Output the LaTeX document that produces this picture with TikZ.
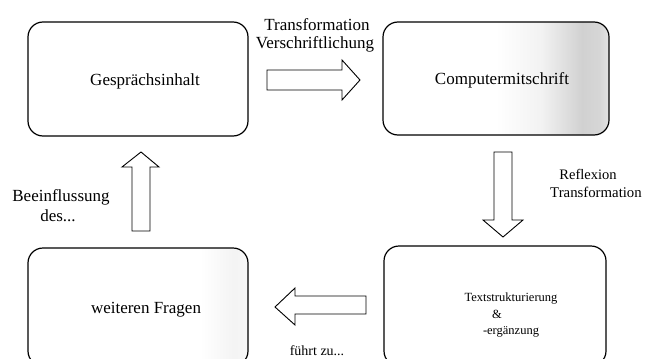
\documentclass[tikz,border=0pt]{standalone}
\usepackage{fontspec}
\setmainfont{Liberation Serif}
\usetikzlibrary{calc}
\pgfdeclarehorizontalshading{cmshade}{100bp}{color(0bp)=(white); color(25bp)=(white); color(50bp)=(white); color(60bp)=(gray!10); color(69bp)=(gray!36); color(73bp)=(gray!32); color(75bp)=(gray!22); color(100bp)=(gray!22)}
\pgfdeclarehorizontalshading{wfshade}{100bp}{color(0bp)=(white); color(25bp)=(white); color(64bp)=(white); color(72bp)=(gray!9); color(75bp)=(gray!5); color(100bp)=(gray!5)}
\tikzset{
  procbox/.style={draw=black, line width=1.2pt, rounded corners=15pt, inner sep=0pt},
  blockarrow/.style={draw=black, line width=0.9pt, fill=white, line join=miter},
  lbl/.style={inner sep=0pt, anchor=base, font=\fontsize{17}{20}\selectfont},
  smalllbl/.style={inner sep=0pt, anchor=base, font=\fontsize{12.5}{15}\selectfont},
}
\begin{document}
\begin{tikzpicture}[x=1pt,y=-1pt]
\useasboundingbox (0,0) rectangle (646,359);
\clip (0,0) rectangle (646,359);
% boxes
\node[procbox, minimum width=220pt, minimum height=114pt] (b1) at (138,79) {};
\node[procbox, minimum width=226pt, minimum height=113pt, shading=cmshade] (b2) at (496,78.5) {};
\node[procbox, minimum width=220pt, minimum height=118pt, shading=wfshade] (b3) at (138,307) {};
\node[procbox, minimum width=222pt, minimum height=120pt] (b4) at (495,306) {};
% box texts
\node[lbl] (t1) at ($(b1.center)+(7,6)$) {Gesprächsinhalt};
\node[lbl] (t2) at ($(b2.center)+(6,5.5)$) {Computermitschrift};
\node[lbl] (t3) at ($(b3.center)+(8,6)$) {weiteren Fragen};
\node[smalllbl] (t4a) at ($(b4.center)+(16,-5)$) {Textstrukturierung};
\node[smalllbl] (t4b) at ($(b4.center)+(2,12)$) {\&};
\node[smalllbl] (t4c) at ($(b4.center)+(16,28)$) {-ergänzung};
% block arrows
\draw[blockarrow] (267,70) -- (342,70) -- (342,60) -- (360,80) -- (342,100) -- (342,90) -- (267,90) -- cycle;
\draw[blockarrow] (494,152) -- (512,152) -- (512,220) -- (523,220) -- (503,237) -- (483,220) -- (494,220) -- cycle;
\draw[blockarrow] (366,296) -- (295,296) -- (295,288) -- (275,307) -- (295,325) -- (295,314) -- (366,314) -- cycle;
\draw[blockarrow] (132,231) -- (150,231) -- (150,167) -- (159,167) -- (141,152) -- (122,167) -- (132,167) -- cycle;
% arrow labels
\node[lbl] (l1a) at (317,30) {Transformation};
\node[lbl] (l1b) at (315,48) {Verschriftlichung};
\node[inner sep=0pt, anchor=base, font=\fontsize{14.5}{17}\selectfont] (l2a) at (588,179) {Reflexion};
\node[inner sep=0pt, anchor=base, font=\fontsize{14.8}{17}\selectfont] (l2b) at (596,197) {Transformation};
\node[lbl] (l3a) at (61,201) {Beeinflussung};
\node[lbl] (l3b) at (58,221) {des...};
\node[inner sep=0pt, anchor=base, font=\fontsize{14}{17}\selectfont] (l4) at (317,355) {führt zu...};
\end{tikzpicture}
\end{document}
